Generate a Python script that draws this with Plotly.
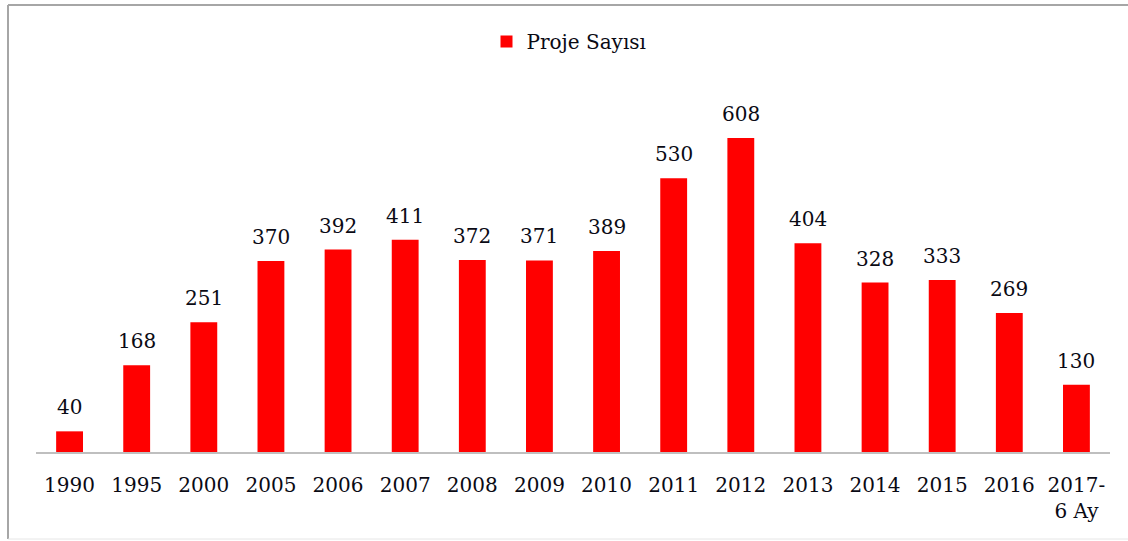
import plotly.graph_objects as go

categories = ["1990", "1995", "2000", "2005", "2006", "2007", "2008", "2009",
              "2010", "2011", "2012", "2013", "2014", "2015", "2016", "2017-<br>6 Ay"]
proje_sayisi = [40, 168, 251, 370, 392, 411, 372, 371, 389, 530, 608, 404, 328, 333, 269, 130]
series_name = "Proje Sayısı"

FONT = "DejaVu Serif"
TXT = "#0a0a14"

fig = go.Figure()
fig.add_trace(go.Bar(
    x=categories, y=proje_sayisi, name=series_name,
    marker=dict(color="#ff0000", line=dict(width=0)),
    width=0.4,
))
# value labels: annotation x given as category index on the category axis
for i, v in enumerate(proje_sayisi):
    fig.add_annotation(x=i, y=v, text=str(v), showarrow=False, yanchor="bottom",
                       yshift=10, font=dict(family=FONT, size=20, color=TXT))

H_PLOT = 452 - 100
rng_top = H_PLOT / (314 / 608)
LX = -(36 - 8) / 1074
TOPY = (452 - 5) / 352
BOTY = -(539 - 452) / 352

fig.update_layout(
    width=1128, height=541,
    margin=dict(l=36, r=18, t=100, b=89, autoexpand=False),
    paper_bgcolor="white", plot_bgcolor="white",
    showlegend=True,
    legend=dict(orientation="h", x=0.5 - 4 / 1074, xanchor="center", y=1 - 22 / 541,
                yref="container", yanchor="top",
                font=dict(family=FONT, size=20, color=TXT),
                itemwidth=30, bgcolor="rgba(0,0,0,0)"),
    xaxis=dict(type="category", range=[-0.5, len(categories) - 0.5],
               showline=True, linecolor="#bfbfbf", linewidth=2, ticks="",
               ticklabelstandoff=14,
               tickfont=dict(family=FONT, size=20, color=TXT), showgrid=False,
               automargin=False, tickangle=0),
    yaxis=dict(visible=False, range=[0, rng_top], showgrid=False, zeroline=False),
    shapes=[dict(type="line", xref="paper", yref="paper", x0=LX, x1=1.05,
                 y0=TOPY, y1=TOPY, line=dict(color="#a6a6a6", width=2)),
            dict(type="line", xref="paper", yref="paper", x0=LX, x1=LX,
                 y0=TOPY, y1=BOTY, line=dict(color="#a6a6a6", width=2)),
            dict(type="line", xref="paper", yref="paper", x0=LX, x1=1.05,
                 y0=BOTY, y1=BOTY, line=dict(color="#e6e6e6", width=1))],
)
fig.write_html("out.html", config={"displayModeBar": False},
               post_script="document.body.style.margin='0px';document.body.style.overflow='hidden';")
